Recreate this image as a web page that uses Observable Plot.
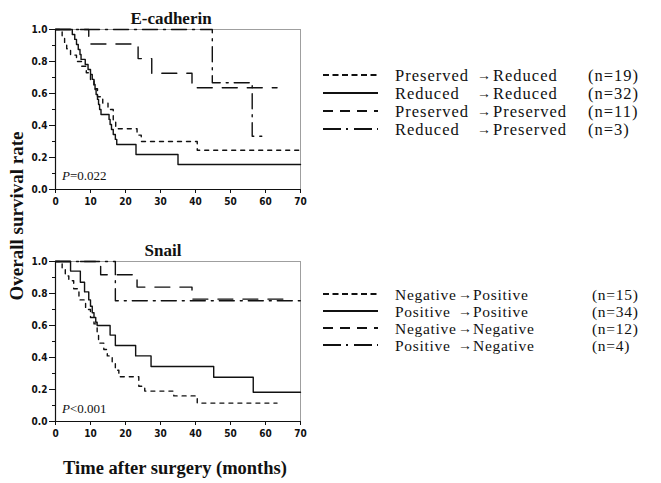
<!DOCTYPE html>
<html>
<head>
<meta charset="utf-8">
<script src="https://cdn.jsdelivr.net/npm/d3@7"></script>
<script src="https://cdn.jsdelivr.net/npm/@observablehq/plot@0.6"></script>
<style>
  html, body { margin: 0; padding: 0; background: #fff; }
  #root { position: relative; width: 661px; height: 483px; overflow: hidden; background: #fff; }
  .chart { position: absolute; left: 0; }
  #overlay { position: absolute; left: 0; top: 0; pointer-events: none; }
</style>
</head>
<body>
<div id="root"></div>
<script>
// ---------- shared axis data ----------
const monthTicks = [0, 10, 20, 30, 40, 50, 60, 70];
const rateTicks = [0, 0.2, 0.4, 0.6, 0.8, 1.0];
const rateTickLabels = ["0.0", "0.2", "0.4", "0.6", "0.8", "1.0"];
const rateMinorTicks = [0.1, 0.3, 0.5, 0.7, 0.9];
const yAxisLabel = "Overall survival rate";
const xAxisLabel = "Time after surgery (months)";

// ---------- E-cadherin panel ----------
const ecadTitle = "E-cadherin";
const ecadPSign = "=0.022";
const ecadFrom = ["Preserved", "Reduced", "Preserved", "Reduced"];
const ecadTo = ["Reduced", "Reduced", "Preserved", "Preserved"];
const ecadN = ["(n=19)", "(n=32)", "(n=11)", "(n=3)"];
// Preserved -> Reduced (n=19)
const ecadPresRed_t = [0, 1.9, 2.6, 3.2, 4.3, 6, 7.5, 8.8, 10, 11, 12, 13.5, 15, 16.5, 17.2, 23.3, 24.5, 40.5, 70];
const ecadPresRed_s = [1, 0.947, 0.91, 0.88, 0.84, 0.80, 0.77, 0.73, 0.68, 0.63, 0.58, 0.54, 0.50, 0.43, 0.38, 0.34, 0.30, 0.245, 0.245];
// Reduced -> Reduced (n=32)
const ecadRedRed_t = [0, 4.8, 5.5, 6, 6.5, 7, 7.3, 8.5, 9.3, 10, 10.5, 11, 11.3, 11.6, 12, 12.3, 12.6, 13, 15.3, 15.6, 16, 16.5, 17.1, 17.5, 23, 35, 70];
const ecadRedRed_s = [1, 0.969, 0.938, 0.906, 0.875, 0.844, 0.813, 0.781, 0.75, 0.719, 0.688, 0.656, 0.625, 0.594, 0.563, 0.531, 0.5, 0.469, 0.438, 0.406, 0.375, 0.344, 0.313, 0.281, 0.219, 0.156, 0.156];
// Preserved -> Preserved (n=11)
const ecadPresPres_t = [0, 9.5, 23.6, 27.5, 39, 63.3];
const ecadPresPres_s = [1, 0.909, 0.818, 0.727, 0.636, 0.636];
// Reduced -> Preserved (n=3)
const ecadRedPres_t = [0, 44.8, 56.2, 59];
const ecadRedPres_s = [1, 0.667, 0.333, 0.333];

// ---------- Snail panel ----------
const snailTitle = "Snail";
const snailPSign = "<0.001";
const snailFrom = ["Negative", "Positive", "Negative", "Positive"];
const snailTo = ["Positive", "Positive", "Negative", "Negative"];
const snailN = ["(n=15)", "(n=34)", "(n=12)", "(n=4)"];
// Negative -> Positive (n=15)
const snailNegPos_t = [0, 1.9, 2.8, 3.8, 5.2, 6.7, 8.6, 10, 11, 11.9, 12.3, 13.8, 14.8, 16.2, 17.1, 18.1, 23.8, 25.5, 33.8, 40.5, 63.3];
const snailNegPos_s = [1, 0.95, 0.91, 0.88, 0.83, 0.76, 0.70, 0.65, 0.61, 0.56, 0.49, 0.45, 0.41, 0.37, 0.32, 0.28, 0.22, 0.19, 0.16, 0.115, 0.115];
// Positive -> Positive (n=34)
const snailPosPos_t = [0, 4.3, 7.1, 8.3, 9.5, 10, 10.5, 11, 11.5, 11.9, 15.6, 17.1, 22.9, 27.3, 45.2, 56.5, 70];
const snailPosPos_s = [1, 0.94, 0.87, 0.81, 0.76, 0.72, 0.68, 0.65, 0.62, 0.60, 0.54, 0.475, 0.41, 0.344, 0.277, 0.183, 0.183];
// Negative -> Negative (n=12)
const snailNegNeg_t = [0, 12.9, 23.3, 39, 66];
const snailNegNeg_s = [1, 0.917, 0.84, 0.765, 0.765];
// Positive -> Negative (n=4)
const snailPosNeg_t = [0, 17.1, 70];
const snailPosNeg_s = [1, 0.755, 0.755];

// ---------- styles (not data) ----------
const plotDash = ["4,5", null, "15,10", "15,6,2,6"];
const legendDash = ["6,3.5", null, "10,7", "18,5,2,6"];
const serif = "'Liberation Serif', 'Times New Roman', serif";
const tickFont = "'DejaVu Sans Condensed', 'Liberation Sans Narrow', 'DejaVu Sans', sans-serif";

function toRows(ts, ss, k) { return ts.map((t, j) => ({ k, t, s: ss[j] })); }

function makeChart(title, titleDx, seriesT, seriesS) {
  const marks = [
    Plot.frame({ stroke: "#888", strokeWidth: 0.8 }),
    Plot.axisY(rateMinorTicks, { tickSize: 3, tickFormat: () => "", strokeWidth: 1, label: null }),
    Plot.axisY(rateTicks, {
      tickSize: 6, tickPadding: 2, strokeWidth: 1,
      tickFormat: d => rateTickLabels[rateTicks.indexOf(d)],
      fontSize: 10, fontWeight: "bold", fontFamily: tickFont, fill: "#111", label: null
    }),
    Plot.axisX(monthTicks, {
      tickSize: 4, tickPadding: 4, strokeWidth: 1,
      fontSize: 10, fontWeight: "bold", fontFamily: tickFont, fill: "#111", label: null
    }),
    Plot.ruleX([0], { stroke: "#111", strokeWidth: 1.2 }),
    Plot.ruleY([0], { stroke: "#111", strokeWidth: 1.2 })
  ];
  seriesT.forEach((ts, i) => {
    marks.push(Plot.line(toRows(ts, seriesS[i], i), {
      x: "t", y: "s", curve: "step-after",
      stroke: "#111", strokeWidth: 1.4,
      strokeDasharray: plotDash[i] || undefined
    }));
  });
  marks.push(Plot.text([title], {
    frameAnchor: "top", dx: titleDx, dy: -6, lineAnchor: "bottom",
    fontSize: 17, fontWeight: "bold", fontFamily: serif, fill: "#111"
  }));
  return Plot.plot({
    width: 320, height: 215,
    marginLeft: 55, marginRight: 20, marginTop: 29, marginBottom: 26,
    style: { background: "transparent", color: "#111", fontFamily: tickFont },
    x: { domain: [0, 70], axis: null, label: null },
    y: { domain: [0, 1], axis: null, label: null },
    marks
  });
}

const root = document.getElementById("root");

const c1 = makeChart(ecadTitle, -7,
  [ecadPresRed_t, ecadRedRed_t, ecadPresPres_t, ecadRedPres_t],
  [ecadPresRed_s, ecadRedRed_s, ecadPresPres_s, ecadRedPres_s]);
const w1 = document.createElement("div"); w1.className = "chart"; w1.style.top = "0px"; w1.appendChild(c1);
root.appendChild(w1);

const c2 = makeChart(snailTitle, -15,
  [snailNegPos_t, snailPosPos_t, snailNegNeg_t, snailPosNeg_t],
  [snailNegPos_s, snailPosPos_s, snailNegNeg_s, snailPosNeg_s]);
const w2 = document.createElement("div"); w2.className = "chart"; w2.style.top = "232px"; w2.appendChild(c2);
root.appendChild(w2);

// ---------- overlay: labels, p-values, legends ----------
const svg = d3.select(root).append("svg").attr("id", "overlay")
  .attr("width", 661).attr("height", 483);

svg.append("text")
  .attr("transform", "translate(23,216) rotate(-90)")
  .attr("text-anchor", "middle")
  .attr("font-family", serif).attr("font-weight", "bold").attr("font-size", 19)
  .attr("fill", "#111").text(yAxisLabel);

svg.append("text")
  .attr("x", 175).attr("y", 474)
  .attr("text-anchor", "middle")
  .attr("font-family", serif).attr("font-weight", "bold").attr("font-size", 18.5)
  .attr("fill", "#111").text(xAxisLabel);

function pText(y, rest) {
  const t = svg.append("text").attr("x", 62).attr("y", y)
    .attr("font-family", serif).attr("font-size", 13).attr("fill", "#111");
  t.append("tspan").attr("font-style", "italic").text("P");
  t.append("tspan").text(rest);
}
pText(180, ecadPSign);
pText(413, snailPSign);

function legend(baselines, from, to, ns, arrowX, toX, nX, fontSize, spacing) {
  baselines.forEach((b, i) => {
    const l = svg.append("line").attr("x1", 323).attr("x2", 378)
      .attr("y1", b - 6).attr("y2", b - 6)
      .attr("stroke", "#111").attr("stroke-width", 2);
    if (legendDash[i]) l.attr("stroke-dasharray", legendDash[i]);
    const t = svg.append("text").attr("font-family", serif).attr("font-size", fontSize)
      .attr("letter-spacing", spacing).attr("fill", "#111").attr("y", b);
    t.append("tspan").attr("x", 395).attr("y", b).text(from[i]);
    t.append("tspan").attr("x", arrowX).attr("y", b - 1).attr("font-size", 14)
      .attr("letter-spacing", 0).text("\u2192");
    t.append("tspan").attr("x", toX).attr("y", b).text(to[i]);
    t.append("tspan").attr("x", nX).attr("y", b).text(ns[i]);
  });
}
legend([81, 99, 117, 135], ecadFrom, ecadTo, ecadN, 477, 493, 588, 16.5, 1);
legend([300, 317, 334, 351], snailFrom, snailTo, snailN, 458, 473, 592, 15.5, 0.7);
</script>
</body>
</html>
